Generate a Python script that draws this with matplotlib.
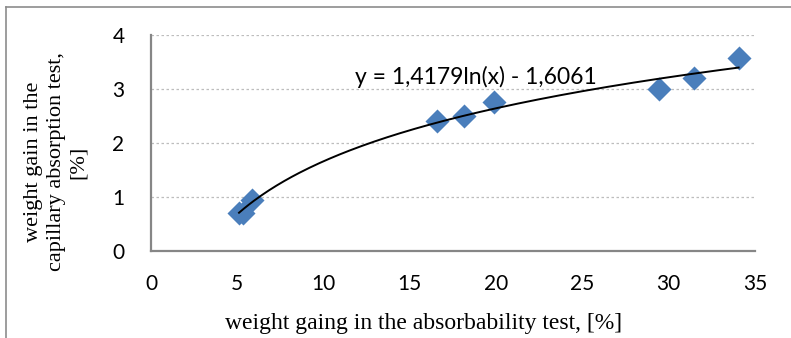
import numpy as np
import matplotlib
matplotlib.use("Agg")
import matplotlib.pyplot as plt
from matplotlib.lines import Line2D

# measured points (weight gain: absorbability test vs capillary absorption test)
absorb = [5.1, 5.35, 5.85, 16.55, 18.15, 19.9, 29.45, 31.45, 34.05]
capillary = [0.69, 0.70, 0.94, 2.40, 2.50, 2.75, 3.00, 3.21, 3.57]

# Excel logarithmic trendline
coef_a, coef_b = 1.4179, -1.6061
equation = "y = 1,4179ln(x) - 1,6061"

x_ticks = [0, 5, 10, 15, 20, 25, 30, 35]
y_ticks = [0, 1, 2, 3, 4]

fig = plt.figure(figsize=(7.91, 3.38), dpi=100)
ax = fig.add_axes([151 / 791, 87.3 / 338, 604 / 791, 215.7 / 338])

ax.scatter(absorb, capillary, marker="D", s=150, color="#4a7ebb", zorder=3, linewidths=0)
xs = np.linspace(min(absorb), max(absorb), 200)
ax.plot(xs, coef_a * np.log(xs) + coef_b, color="black", lw=1.4, zorder=4)

ax.text(18.8, 3.22, equation, ha="center", va="center", fontsize=16.5, family="Lato")

ax.set_xlim(0, 35)
ax.set_ylim(0, 4)
ax.set_xticks(x_ticks)
ax.set_yticks(y_ticks)
ax.tick_params(length=0, labelsize=15)
ax.tick_params(axis="x", pad=17)
ax.tick_params(axis="y", pad=19)
for lab in ax.get_xticklabels() + ax.get_yticklabels():
    lab.set_family("Lato")

ax.grid(axis="y", color="#bdbdbd", ls=(0, (2, 2)), lw=0.9)
ax.set_axisbelow(True)
for side in ("top", "right"):
    ax.spines[side].set_visible(False)
for side in ("left", "bottom"):
    ax.spines[side].set_color("#868686")
    ax.spines[side].set_linewidth(1.6)

fig.text(424 / 791, 1 - 323 / 338, "weight gaing in the absorbability test, [%]",
         ha="center", va="center", fontsize=17, family="Liberation Serif")
fig.text(56 / 791, 1 - 162 / 338, "weight gain in the\ncapillary absorption test,\n[%]",
         ha="center", va="center", rotation=90, fontsize=16, family="Liberation Serif",
         linespacing=1.25, multialignment="center")

# chart frame (only top and left edges visible in the crop)
fig.add_artist(Line2D([6 / 791, 1], [1 - 7 / 338, 1 - 7 / 338], color="#8c8c8c", lw=1.2))
fig.add_artist(Line2D([6 / 791, 6 / 791], [0, 1 - 7 / 338], color="#8c8c8c", lw=1.2))

fig.savefig("out.png", dpi=100)
